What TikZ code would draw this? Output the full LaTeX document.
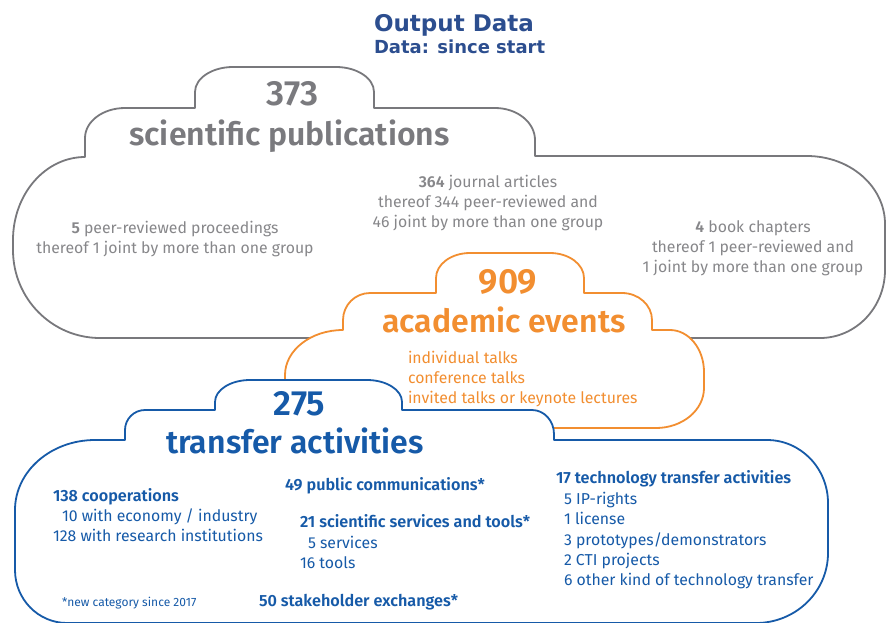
\documentclass[tikz,border=0pt]{standalone}
\usepackage{fontspec}
\setmainfont{Fira Sans}[BoldFont={Fira Sans SemiBold}]
\newfontfamily\titlefont{DejaVu Sans}
\definecolor{titleblue}{RGB}{44,78,143}
\definecolor{grayline}{RGB}{120,120,124}
\definecolor{graytext}{RGB}{135,135,138}
\definecolor{grayhead}{RGB}{122,122,126}
\definecolor{orangec}{RGB}{242,142,48}
\definecolor{bluec}{RGB}{22,90,168}
\begin{document}
\begin{tikzpicture}[x=1pt,y=1pt,
  cloud/.style={line width=1.8pt, fill=white, line join=round},
  lbl/.style={inner sep=0pt, outer sep=0pt},
  body/.style={lbl, font=\fontsize{15.8}{20}\selectfont},
  bodybold/.style={lbl, font=\fontsize{16.2}{20}\bfseries\selectfont},
  bignum/.style={lbl, font=\fontsize{35}{40}\bfseries\selectfont},
  headline/.style={lbl, font=\fontsize{32}{38}\bfseries\selectfont},
  gtxt/.style={body, text=graytext},
  otxt/.style={body, text=orangec},
  btxt/.style={body, text=bluec},
  bbtxt/.style={bodybold, text=bluec},
]
\useasboundingbox (0,0) rectangle (886,-622);

% gray cloud
\draw[cloud, draw=grayline]
  (195,-108) -- (195,-92)
  arc[start angle=180,end angle=90,x radius=38pt,y radius=25pt] -- (336,-67)
  arc[start angle=90,end angle=0,x radius=38pt,y radius=25pt] -- (374,-108)
  -- (495,-108)
  arc[start angle=90,end angle=0,x radius=40pt,y radius=32pt] -- (535,-156)
  -- (807,-156)
  arc[start angle=90,end angle=0,x radius=78pt,y radius=68pt] -- (885,-270)
  arc[start angle=0,end angle=-90,x radius=65pt,y radius=68pt] -- (100,-338)
  arc[start angle=270,end angle=180,x radius=87pt,y radius=88pt] -- (13,-240)
  arc[start angle=180,end angle=90,x radius=72pt,y radius=83pt] -- (85,-138)
  arc[start angle=180,end angle=90,x radius=40pt,y radius=30pt] -- cycle;

% orange cloud
\draw[cloud, draw=orangec]
  (436,-293) -- (436,-278)
  arc[start angle=180,end angle=90,x radius=34pt,y radius=25pt] -- (550,-253)
  arc[start angle=90,end angle=0,x radius=34pt,y radius=25pt] -- (584,-293)
  -- (622,-293)
  arc[start angle=90,end angle=0,x radius=30pt,y radius=27pt] -- (652,-330)
  -- (670,-330)
  arc[start angle=90,end angle=0,x radius=34pt,y radius=42pt] -- (704,-388)
  arc[start angle=0,end angle=-90,x radius=48pt,y radius=40pt] -- (335,-428)
  arc[start angle=270,end angle=180,x radius=50pt,y radius=45pt] -- (285,-375)
  arc[start angle=180,end angle=90,x radius=58pt,y radius=45pt] -- (343,-320)
  arc[start angle=180,end angle=90,x radius=27pt,y radius=27pt] -- cycle;

% blue cloud
\draw[cloud, draw=bluec]
  (215,-410) -- (215,-402)
  arc[start angle=180,end angle=90,x radius=35pt,y radius=22pt] -- (367,-380)
  arc[start angle=90,end angle=0,x radius=35pt,y radius=22pt] -- (402,-410)
  -- (532,-410)
  arc[start angle=90,end angle=0,x radius=22pt,y radius=24pt] -- (554,-440)
  -- (767,-440)
  arc[start angle=90,end angle=0,x radius=61pt,y radius=63pt] -- (828,-553)
  arc[start angle=0,end angle=-90,x radius=72pt,y radius=70pt] -- (67,-623)
  arc[start angle=270,end angle=180,x radius=52pt,y radius=53pt] -- (15,-510)
  arc[start angle=180,end angle=90,x radius=80pt,y radius=70pt] -- (125,-440)
  -- (125,-430)
  arc[start angle=180,end angle=90,x radius=20pt,y radius=20pt] -- cycle;

% title
\node[lbl, anchor=base west, text=titleblue, font=\titlefont\bfseries\fontsize{23}{26}\selectfont] (title) at (374,-31.5) {Output Data};
\node[lbl, anchor=base west, text=titleblue, font=\titlefont\bfseries\fontsize{18}{22}\selectfont] (subtitle) at (374,-53.5) {Data: since start};

% scientific publications
\node[bignum, anchor=base, text=grayhead] (n373) at (292.5,-105) {373};
\node[headline, anchor=base, text=grayhead] (sci) at (289.5,-145) {scientific publications};
\node[gtxt, anchor=base] (p1) at (175,-233) {\textbf{5} peer-reviewed proceedings};
\node[gtxt, anchor=base] (p2) at (175,-253) {thereof 1 joint by more than one group};
\node[gtxt, anchor=base] (j1) at (488,-187) {\textbf{364} journal articles};
\node[gtxt, anchor=base] (j2) at (488,-207) {thereof 344 peer-reviewed and};
\node[gtxt, anchor=base] (j3) at (488,-227) {46 joint by more than one group};
\node[gtxt, anchor=base] (b1) at (753,-232) {\textbf{4} book chapters};
\node[gtxt, anchor=base] (b2) at (753,-252) {thereof 1 peer-reviewed and};
\node[gtxt, anchor=base] (b3) at (753,-272.5) {1 joint by more than one group};

% academic events
\node[bignum, anchor=base, text=orangec] (n909) at (508,-293) {909};
\node[headline, anchor=base, text=orangec] (acad) at (504,-332) {academic events};
\node[otxt, anchor=base west] (a1) at (408,-363) {individual talks};
\node[otxt, anchor=base west] (a2) at (408,-383) {conference talks};
\node[otxt, anchor=base west] (a3) at (408,-403) {invited talks or keynote lectures};

% transfer activities
\node[bignum, anchor=base, text=bluec] (n275) at (299.5,-415) {275};
\node[headline, anchor=base, text=bluec] (trans) at (295,-453) {transfer activities};
\node[bbtxt, anchor=base west] (c0) at (53,-501) {138 cooperations};
\node[btxt, anchor=base west] (c1) at (62,-521.5) {10 with economy / industry};
\node[btxt, anchor=base west] (c2) at (53,-541.5) {128 with research institutions};
\node[bbtxt, anchor=base west] (pc) at (285,-490.5) {49 public communications*};
\node[bbtxt, anchor=base west] (ss0) at (300,-527) {21 scientific services and tools*};
\node[btxt, anchor=base west] (ss1) at (308,-548) {5 services};
\node[btxt, anchor=base west] (ss2) at (300,-568) {16 tools};
\node[bbtxt, anchor=base west] (sh) at (259,-606) {50 stakeholder exchanges*};
\node[btxt, anchor=base west, font=\fontsize{12}{14}\selectfont] (note) at (62,-606) {*new category since 2017};
\node[bbtxt, anchor=base west] (t0) at (556,-483) {17 technology transfer activities};
\node[btxt, anchor=base west] (t1) at (564,-504) {5 IP-rights};
\node[btxt, anchor=base west] (t2) at (564,-524) {1 license};
\node[btxt, anchor=base west] (t3) at (564,-545) {3 prototypes/demonstrators};
\node[btxt, anchor=base west] (t4) at (564,-565) {2 CTI projects};
\node[btxt, anchor=base west] (t5) at (564,-585) {6 other kind of technology transfer};
\end{tikzpicture}
\end{document}
